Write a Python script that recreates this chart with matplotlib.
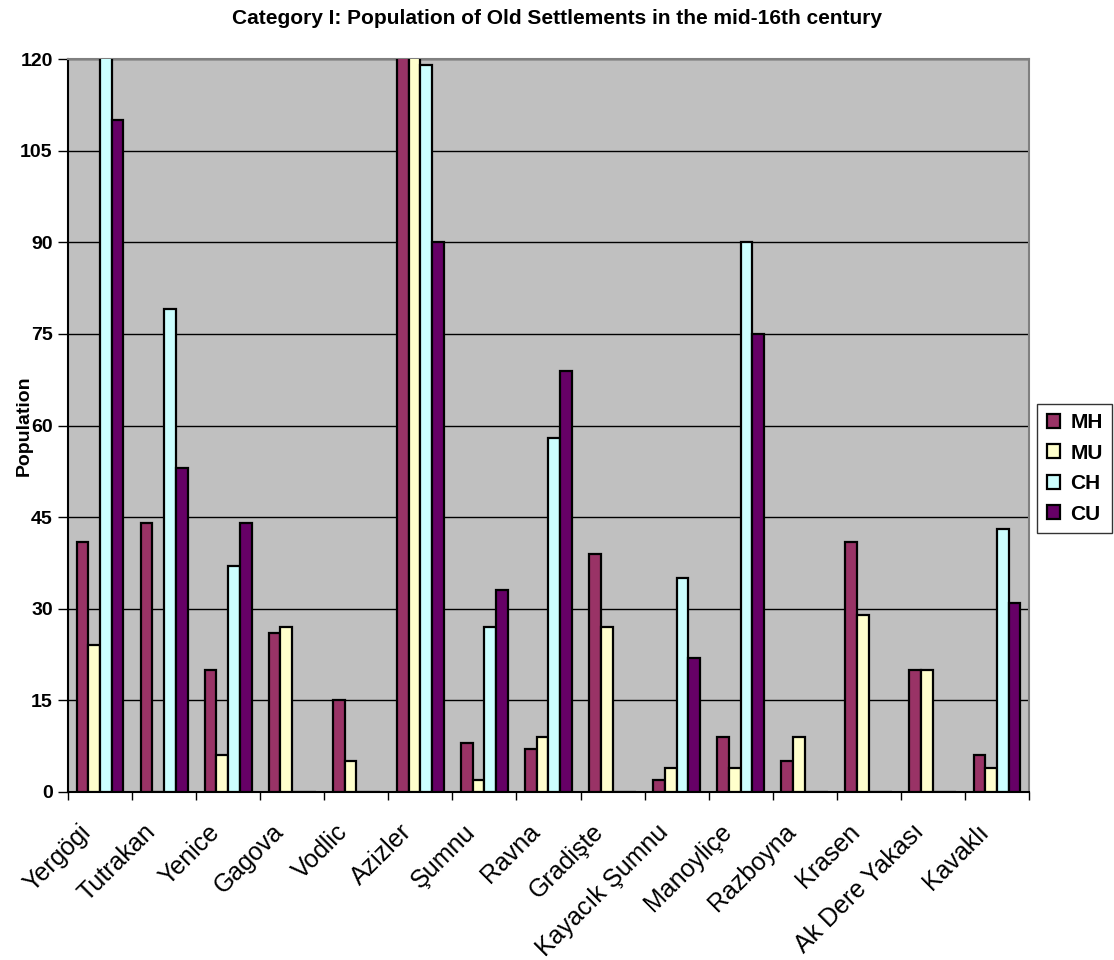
import matplotlib.pyplot as plt
import matplotlib.transforms as mtransforms
import numpy as np

plt.rcParams['font.family'] = ['Liberation Sans', 'DejaVu Sans']

settlements = ['Yergögi', 'Tutrakan', 'Yenice', 'Gagova', 'Vodlic', 'Azizler', 'Şumnu',
               'Ravna', 'Gradişte', 'Kayacık Şumnu', 'Manoyliçe', 'Razboyna', 'Krasen',
               'Ak Dere Yakası', 'Kavaklı']
MH = [41, 44, 20, 26, 15, 135, 8, 7, 39, 2, 9, 5, 41, 20, 6]
MU = [24, 0, 6, 27, 5, 135, 2, 9, 27, 4, 4, 9, 29, 20, 4]
CH = [135, 79, 37, 0, 0, 119, 27, 58, 0, 35, 90, 0, 0, 0, 43]
CU = [110, 53, 44, 0, 0, 90, 33, 69, 0, 22, 75, 0, 0, 0, 31]
series = [('MH', MH, '#993366'), ('MU', MU, '#FFFFCC'),
          ('CH', CH, '#CCFFFF'), ('CU', CU, '#660066')]

fig = plt.figure(figsize=(11.14, 9.6), dpi=100)
ax = fig.add_axes([0.061, 0.175, 0.8627, 0.7635])
ax.set_facecolor('#C0C0C0')

x = np.arange(len(settlements))
w = 0.183
for i, (name, vals, col) in enumerate(series):
    ax.bar(x + (i - 1.5) * w, vals, w, color=col, edgecolor='black',
           linewidth=1.6, label=name, zorder=3)

ax.set_xlim(-0.5, len(settlements) - 0.5)
ax.set_ylim(0, 120)
ax.set_yticks(np.arange(0, 121, 15))
ax.yaxis.grid(True, color='black', linewidth=1.0, zorder=1)
ax.set_axisbelow(True)

# category boundaries carry the ticks, labels sit at the centres
ax.set_xticks(np.arange(-0.5, len(settlements), 1.0))
ax.set_xticklabels([])
ax.set_xticks(x, minor=True)
ax.set_xticklabels(settlements, minor=True, rotation=45, ha='right',
                   rotation_mode='anchor', fontsize=18)
ax.tick_params(axis='x', which='minor', length=0, pad=20)
ax.tick_params(axis='x', which='major', length=6, width=1, direction='out')
ax.tick_params(axis='y', length=7, width=1, direction='out', labelsize=14, pad=4)
for t in ax.get_yticklabels():
    t.set_fontweight('bold')
shift = mtransforms.ScaledTranslation(-21 / 100, 0, fig.dpi_scale_trans)
for t in ax.get_xticklabels(minor=True):
    t.set_transform(t.get_transform() + shift)

ax.spines['left'].set_color('black')
ax.spines['bottom'].set_color('black')
ax.spines['top'].set_color('#808080')
ax.spines['right'].set_color('#808080')
for s in ax.spines.values():
    s.set_linewidth(1.5)

ax.set_ylabel('Population', fontsize=14, fontweight='bold')
ax.yaxis.set_label_coords(-0.037, 0.5)
fig.text(0.5, 0.981, 'Category I: Population of Old Settlements in the mid-16th century',
         ha='center', va='center', fontsize=15, fontweight='bold')

leg = fig.legend(loc='center left', bbox_to_anchor=(0.931, 0.512),
                 prop={'weight': 'bold', 'size': 15}, frameon=True, fancybox=False,
                 edgecolor='black', handlelength=0.65, handleheight=0.65,
                 handletextpad=0.5, borderpad=0.45, labelspacing=0.55,
                 borderaxespad=0)
leg.get_frame().set_linewidth(1.0)

plt.savefig('out.png', dpi=100)
